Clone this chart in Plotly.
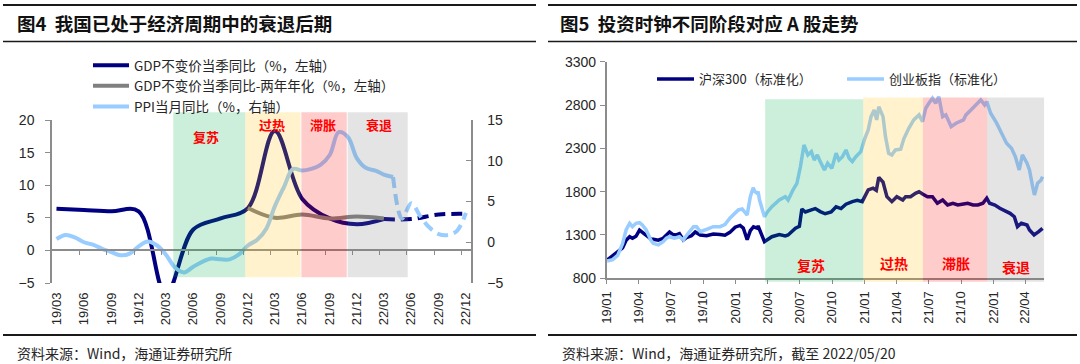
import pandas as pd
import plotly.graph_objects as go

W, H = 1080, 364
NAVY, GREY, LBLUE = "#000080", "#808080", "#99CCFF"
AXC, TXT = "#8c8c8c", "#262626"
CJK = "Noto Sans CJK SC, Arial, sans-serif"

# ---------------- Figure 4 data ----------------
quarter_ticks = ["2019-03", "2019-06", "2019-09", "2019-12", "2020-03", "2020-06", "2020-09", "2020-12",
                 "2021-03", "2021-06", "2021-09", "2021-12", "2022-03", "2022-06", "2022-09", "2022-12"]
quarter_labels = ["19/03", "19/06", "19/09", "19/12", "20/03", "20/06", "20/09", "20/12",
                  "21/03", "21/06", "21/09", "21/12", "22/03", "22/06", "22/09", "22/12"]

gdp_q = ["2019-03", "2019-06", "2019-09", "2019-12", "2020-03", "2020-06", "2020-09", "2020-12",
         "2021-03", "2021-06", "2021-09", "2021-12", "2022-03"]
gdp_yoy = [6.4, 6.2, 6.0, 6.0, -6.8, 3.2, 4.9, 6.5, 18.3, 7.9, 4.9, 4.0, 4.8]
gdp_fc_q = ["2022-03", "2022-06", "2022-09", "2022-12"]
gdp_fc = [4.8, 4.8, 5.5, 5.6]
gdp2y_q = ["2020-12", "2021-03", "2021-06", "2021-09", "2021-12", "2022-03"]
gdp2y = [6.5, 5.0, 5.5, 4.9, 5.2, 4.9]
ppi_m = [str(p) for p in pd.period_range("2019-03", "2022-04", freq="M")]
ppi = [0.4, 0.9, 0.6, 0.0, -0.3, -0.8, -1.2, -1.6, -1.4, -0.5,
       0.1, -0.4, -1.5, -3.1, -3.7, -3.0, -2.4, -2.0, -2.1, -2.1, -1.5, -0.4,
       0.3, 1.7, 4.4, 6.8, 9.0, 8.8, 9.0, 9.5, 10.7, 13.5, 12.9, 10.3,
       9.1, 8.8, 8.3, 8.0]
ppi_fc_m = [str(p) for p in pd.period_range("2022-04", "2022-12", freq="M")]
ppi_fc = [8.0, 2.9, 4.8, 3.2, 1.8, 1.0, 0.9, 1.4, 3.6]

phases4 = [("复苏", "2020-04-10", "2020-12-07", "rgba(0,176,80,0.2)", "2020-07-28", 17.4),
           ("过热", "2020-12-07", "2021-06-10", "rgba(255,192,0,0.2)", "2021-03-07", 19.3),
           ("滞胀", "2021-06-13", "2021-11-12", "rgba(255,0,0,0.2)", "2021-08-25", 19.3),
           ("衰退", "2021-11-15", "2022-06-04", "rgba(120,120,120,0.2)", "2022-03-01", 19.3)]

# ---------------- Figure 5 data ----------------
hs300_d = ["2019-01-02", "2019-01-18", "2019-02-01", "2019-02-15", "2019-02-25", "2019-03-07", "2019-03-15",
           "2019-03-25", "2019-04-04", "2019-04-12", "2019-04-23", "2019-05-06", "2019-05-13", "2019-05-27",
           "2019-06-10", "2019-06-19", "2019-06-28", "2019-07-08", "2019-07-17", "2019-07-26", "2019-08-06",
           "2019-08-15", "2019-08-29", "2019-09-09", "2019-09-23", "2019-10-11", "2019-10-30", "2019-11-18",
           "2019-12-02", "2019-12-16", "2019-12-31", "2020-01-14", "2020-01-23", "2020-02-03", "2020-02-12",
           "2020-02-21", "2020-03-02", "2020-03-05", "2020-03-12", "2020-03-23", "2020-04-13", "2020-05-04",
           "2020-05-21", "2020-05-29", "2020-06-19", "2020-06-30", "2020-07-07", "2020-07-17", "2020-08-03",
           "2020-08-14", "2020-08-28", "2020-09-11", "2020-09-28", "2020-10-12", "2020-10-26", "2020-11-09",
           "2020-11-27", "2020-12-11", "2020-12-25", "2021-01-11", "2021-01-25", "2021-02-03", "2021-02-10",
           "2021-02-22", "2021-03-05", "2021-03-19", "2021-04-02", "2021-04-19", "2021-04-27", "2021-05-11",
           "2021-05-25", "2021-06-04", "2021-06-14", "2021-06-28", "2021-07-12", "2021-07-26", "2021-08-10",
           "2021-08-24", "2021-09-08", "2021-09-22", "2021-10-08", "2021-10-20", "2021-11-04", "2021-11-18",
           "2021-12-02", "2021-12-13", "2021-12-21", "2022-01-05", "2022-01-19", "2022-02-07", "2022-02-17",
           "2022-03-01", "2022-03-10", "2022-03-21", "2022-04-06", "2022-04-13", "2022-04-26", "2022-05-09",
           "2022-05-20"]
hs300 = [1010, 1060, 1100, 1150, 1240, 1280, 1262, 1285, 1355, 1330, 1300, 1255, 1250, 1240,
         1262, 1300, 1335, 1305, 1300, 1315, 1242, 1269, 1290, 1335, 1300, 1292, 1311, 1305,
         1297, 1330, 1390, 1410, 1380, 1245, 1350, 1395, 1380, 1404, 1330, 1223, 1280, 1305,
         1290, 1300, 1377, 1400, 1600, 1565, 1590, 1605, 1570, 1545, 1565, 1625, 1605, 1655,
         1685, 1700, 1685, 1820, 1840, 1815, 1966, 1910, 1742, 1685, 1742, 1704, 1742, 1742,
         1781, 1800, 1773, 1742, 1742, 1666, 1704, 1646, 1666, 1646, 1658, 1666, 1646, 1646,
         1666, 1724, 1666, 1646, 1608, 1569, 1550, 1511, 1396, 1435, 1415, 1358, 1300, 1338,
         1377]
cyb_d = ["2019-01-02", "2019-01-18", "2019-02-01", "2019-02-15", "2019-02-25", "2019-03-07", "2019-03-15",
         "2019-03-25", "2019-04-04", "2019-04-12", "2019-04-23", "2019-05-06", "2019-05-13", "2019-05-27",
         "2019-06-10", "2019-06-19", "2019-06-28", "2019-07-12", "2019-07-26", "2019-08-06", "2019-08-20",
         "2019-09-04", "2019-09-13", "2019-09-23", "2019-10-11", "2019-10-30", "2019-11-18", "2019-12-02",
         "2019-12-16", "2019-12-31", "2020-01-09", "2020-01-20", "2020-02-03", "2020-02-12", "2020-02-20",
         "2020-02-25", "2020-03-02", "2020-03-05", "2020-03-09", "2020-03-23", "2020-04-01", "2020-04-13",
         "2020-05-04", "2020-05-21", "2020-05-29", "2020-06-12", "2020-06-23", "2020-07-03", "2020-07-13",
         "2020-07-24", "2020-08-03", "2020-08-11", "2020-08-20", "2020-08-28", "2020-09-09", "2020-09-18",
         "2020-09-30", "2020-10-12", "2020-10-20", "2020-10-30", "2020-11-09", "2020-11-18", "2020-11-27",
         "2020-12-07", "2020-12-21", "2020-12-31", "2021-01-11", "2021-01-19", "2021-01-28", "2021-02-04",
         "2021-02-10", "2021-02-22", "2021-03-01", "2021-03-10", "2021-03-19", "2021-03-29", "2021-04-13",
         "2021-04-22", "2021-05-06", "2021-05-20", "2021-06-04", "2021-06-14", "2021-06-23", "2021-07-02",
         "2021-07-12", "2021-07-21", "2021-07-30", "2021-08-10", "2021-08-19", "2021-09-03", "2021-09-17",
         "2021-10-08", "2021-10-15", "2021-10-29", "2021-11-12", "2021-11-26", "2021-12-07", "2021-12-13",
         "2021-12-24", "2022-01-10", "2022-01-24", "2022-02-07", "2022-02-21", "2022-03-04", "2022-03-15",
         "2022-03-24", "2022-04-06", "2022-04-13", "2022-04-22", "2022-04-27", "2022-05-06", "2022-05-16",
         "2022-05-20"]
cyb = [1000, 1015, 1065, 1200, 1358, 1435, 1396, 1435, 1442, 1415, 1358, 1242, 1204, 1185,
       1223, 1262, 1280, 1262, 1280, 1242, 1320, 1396, 1396, 1338, 1366, 1396, 1396, 1420,
       1493, 1560, 1589, 1600, 1530, 1742, 1845, 1800, 1781, 1800, 1704, 1511, 1569, 1627,
       1704, 1742, 1704, 1820, 1897, 2089, 2339, 2224, 2262, 2166, 2224, 2147, 2051, 2128,
       2070, 2243, 2166, 2204, 2281, 2185, 2147, 2204, 2262, 2397, 2512, 2666, 2743, 2628,
       2781, 2666, 2435, 2243, 2224, 2281, 2290, 2410, 2532, 2628, 2686, 2608, 2763, 2821,
       2879, 2821, 2897, 2666, 2686, 2551, 2590, 2628, 2686, 2743, 2801, 2859, 2801, 2839,
       2705, 2590, 2474, 2359, 2301, 2204, 2051, 2224, 2128, 2051, 1858, 1762, 1897, 1935,
       1973]
q5_ticks = ["2019-01-01", "2019-04-01", "2019-07-01", "2019-10-01", "2020-01-01", "2020-04-01", "2020-07-01",
            "2020-10-01", "2021-01-01", "2021-04-01", "2021-07-01", "2021-10-01", "2022-01-01", "2022-04-01"]
q5_labels = ["19/01", "19/04", "19/07", "19/10", "20/01", "20/04", "20/07", "20/10",
             "21/01", "21/04", "21/07", "21/10", "22/01", "22/04"]
phases5 = [("复苏", "2020-03-25", "2020-12-28", "rgba(0,176,80,0.2)", 2867, "2020-08-01", 953),
           ("过热", "2020-12-28", "2021-06-15", "rgba(255,192,0,0.2)", 2888, "2021-03-24", 973),
           ("滞胀", "2021-06-15", "2021-12-14", "rgba(255,0,0,0.2)", 2888, "2021-09-17", 973),
           ("衰退", "2021-12-14", "2022-05-25", "rgba(120,120,120,0.2)", 2888, "2022-03-05", 934)]


def mid(p):
    return (pd.Period(p, freq="M").start_time + pd.Timedelta(days=15)).strftime("%Y-%m-%d")


def first(p):
    return pd.Period(p, freq="M").start_time.strftime("%Y-%m-%d")


# ---------------- layout geometry ----------------
LX = [52 / W, 470.7 / W]
LY = [(H - 283) / H, (H - 120) / H]
RX = [606.7 / W, 1044.3 / W]
RY = [(H - 278.3) / H, (H - 61.7) / H]


def ly_paper(v):
    return LY[0] + (v + 5) / 25 * (LY[1] - LY[0])


def ry_paper(v):
    return RY[0] + (v - 800) / 2500 * (RY[1] - RY[0])


fig = go.Figure()

# Figure 4 traces
fig.add_trace(go.Scatter(x=[mid(q) for q in gdp_q], y=gdp_yoy, mode="lines", name="GDP不变价当季同比（%，左轴）",
                         line=dict(color=NAVY, width=4, shape="spline"), xaxis="x", yaxis="y", legend="legend"))
fig.add_trace(go.Scatter(x=[mid(q) for q in gdp_fc_q], y=gdp_fc, mode="lines", showlegend=False,
                         line=dict(color=NAVY, width=4, shape="spline", dash="11px,6px"), xaxis="x", yaxis="y"))
fig.add_trace(go.Scatter(x=[mid(q) for q in gdp2y_q], y=gdp2y, mode="lines", name="GDP不变价当季同比-两年年化（%，左轴）",
                         line=dict(color=GREY, width=4, shape="spline"), xaxis="x", yaxis="y", legend="legend"))
fig.add_trace(go.Scatter(x=[mid(m) for m in ppi_m], y=ppi, mode="lines", name="PPI当月同比（%，右轴）",
                         line=dict(color=LBLUE, width=4, shape="spline"), xaxis="x", yaxis="y2", legend="legend"))
fig.add_trace(go.Scatter(x=[mid(m) for m in ppi_fc_m], y=ppi_fc, mode="lines", showlegend=False,
                         line=dict(color=LBLUE, width=4, shape="spline", dash="11px,6px"), xaxis="x", yaxis="y2"))
fig.add_trace(go.Scatter(x=[None], y=[None], mode="lines", showlegend=False, hoverinfo="skip",
                         xaxis="x2", yaxis="y"))

# Figure 5 traces
fig.add_trace(go.Scatter(x=hs300_d, y=hs300, mode="lines", name="沪深300（标准化）",
                         line=dict(color=NAVY, width=3.5), xaxis="x3", yaxis="y3", legend="legend2"))
fig.add_trace(go.Scatter(x=cyb_d, y=cyb, mode="lines", name="创业板指（标准化）",
                         line=dict(color=LBLUE, width=3.5), xaxis="x3", yaxis="y3", legend="legend2"))

shapes = []
annos = []
for name, x0, x1, col, tx, ty in phases4:
    shapes.append(dict(type="rect", xref="x", yref="paper", x0=x0, x1=x1, y0=ly_paper(-4.1), y1=ly_paper(21.2),
                       fillcolor=col, line=dict(width=0), layer="above"))
    annos.append(dict(text=name, x=tx, y=ty, xref="x", yref="y", showarrow=False,
                      font=dict(family=CJK, size=13, color="#ff0000", weight=700)))
for name, x0, x1, col, top, tx, ty in phases5:
    shapes.append(dict(type="rect", xref="x3", yref="paper", x0=x0, x1=x1, y0=ry_paper(761), y1=ry_paper(top),
                       fillcolor=col, line=dict(width=0), layer="above"))
    annos.append(dict(text=name, x=tx, y=ty, xref="x3", yref="y3", showarrow=False,
                      font=dict(family=CJK, size=14, color="#ff0000", weight=700)))

# rules
for (xa, xb) in [(3, 536), (548, 1077)]:
    for yy, wd in [(5, 2.2), (41.5, 1.5), (335, 2.2)]:
        shapes.append(dict(type="line", xref="paper", yref="paper", x0=xa / W, x1=xb / W,
                           y0=(H - yy) / H, y1=(H - yy) / H, line=dict(color="#1a1a1a", width=wd)))

# titles / footers
annos += [
    dict(text="图4  我国已处于经济周期中的衰退后期", x=15 / W, y=(H - 23) / H, xref="paper", yref="paper",
         xanchor="left", yanchor="middle", showarrow=False,
         font=dict(family=CJK, size=18.5, color="#111", weight=700)),
    dict(text="图5  投资时钟不同阶段对应 A 股走势", x=558 / W, y=(H - 23) / H, xref="paper", yref="paper",
         xanchor="left", yanchor="middle", showarrow=False,
         font=dict(family=CJK, size=18.5, color="#111", weight=700)),
    dict(text="资料来源：Wind，海通证券研究所", x=15 / W, y=(H - 353) / H, xref="paper", yref="paper",
         xanchor="left", yanchor="middle", showarrow=False, font=dict(family=CJK, size=14, color=TXT)),
    dict(text="资料来源：Wind，海通证券研究所，截至 2022/05/20", x=560 / W, y=(H - 353) / H, xref="paper",
         yref="paper", xanchor="left", yanchor="middle", showarrow=False, font=dict(family=CJK, size=14, color=TXT)),
]

tickfont = dict(family="Arial, Liberation Sans, sans-serif", size=14, color=TXT)
xtickfont = dict(family="Arial, Liberation Sans, sans-serif", size=13, color=TXT)

fig.update_layout(
    width=W, height=H, margin=dict(l=0, r=0, t=0, b=0, pad=0, autoexpand=False),
    paper_bgcolor="white", plot_bgcolor="rgba(0,0,0,0)",
    showlegend=True, shapes=shapes, annotations=annos,
    xaxis=dict(domain=LX, type="date", range=["2019-03-01", "2023-01-01"], anchor="y",
               tickmode="array", tickvals=[mid(q) for q in quarter_ticks], ticktext=quarter_labels,
               tickangle=-90, ticks="", showline=False, showgrid=False, zeroline=False,
               tickfont=xtickfont, ticklabelstandoff=6, automargin=False),
    xaxis2=dict(type="date", range=["2019-03-01", "2023-01-01"], overlaying="x", anchor="free",
                position=ly_paper(0), side="bottom", tickmode="array",
                tickvals=[first(q) for q in quarter_ticks[1:]], showticklabels=False,
                ticks="outside", ticklen=4, tickcolor=AXC, showline=True, linecolor=AXC, linewidth=1.5,
                showgrid=False, zeroline=False, automargin=False),
    yaxis=dict(domain=LY, range=[-5, 20], tick0=-5, dtick=5, anchor="x", ticks="outside", ticklen=5,
               tickcolor=AXC, showline=True, linecolor=AXC, linewidth=1.5, showgrid=False, zeroline=False,
               tickfont=tickfont, ticklabelstandoff=8, automargin=False),
    yaxis2=dict(range=[-5, 15], tick0=-5, dtick=5, overlaying="y", side="right", anchor="x", ticks="inside",
                ticklen=5, tickcolor=AXC, showline=True, linecolor=AXC, linewidth=1.5, showgrid=False,
                zeroline=False, tickfont=tickfont, ticklabelstandoff=12, automargin=False),
    xaxis3=dict(domain=RX, type="date", range=["2019-01-01", "2022-05-25"], anchor="y3",
                tickmode="array", tickvals=q5_ticks, ticktext=q5_labels, tickangle=-90,
                ticks="outside", ticklen=4, tickcolor=AXC, showline=True, linecolor=AXC, linewidth=1.5,
                showgrid=False, zeroline=False, tickfont=xtickfont, ticklabelstandoff=2, automargin=False),
    yaxis3=dict(domain=RY, range=[800, 3300], tick0=800, dtick=500, anchor="x3", ticks="outside", ticklen=5,
                tickcolor=AXC, showline=True, linecolor=AXC, linewidth=1.5, showgrid=False, zeroline=False,
                tickfont=tickfont, ticklabelstandoff=1, automargin=False),
    legend=dict(x=88 / W, y=(H - 50) / H, xanchor="left", yanchor="top", orientation="v",
                font=dict(family=CJK, size=13.5, color=TXT), bgcolor="rgba(0,0,0,0)", tracegroupgap=0,
                itemwidth=36),
    legend2=dict(x=652 / W, y=(H - 64) / H, xanchor="left", yanchor="top", orientation="h",
                 font=dict(family=CJK, size=13, color=TXT), bgcolor="rgba(0,0,0,0)",
                 itemwidth=37, entrywidth=138, entrywidthmode="pixels"),
)

fig.write_html("out.html", config={"displayModeBar": False},
               post_script="document.body.style.margin='0';document.body.style.padding='0';")
